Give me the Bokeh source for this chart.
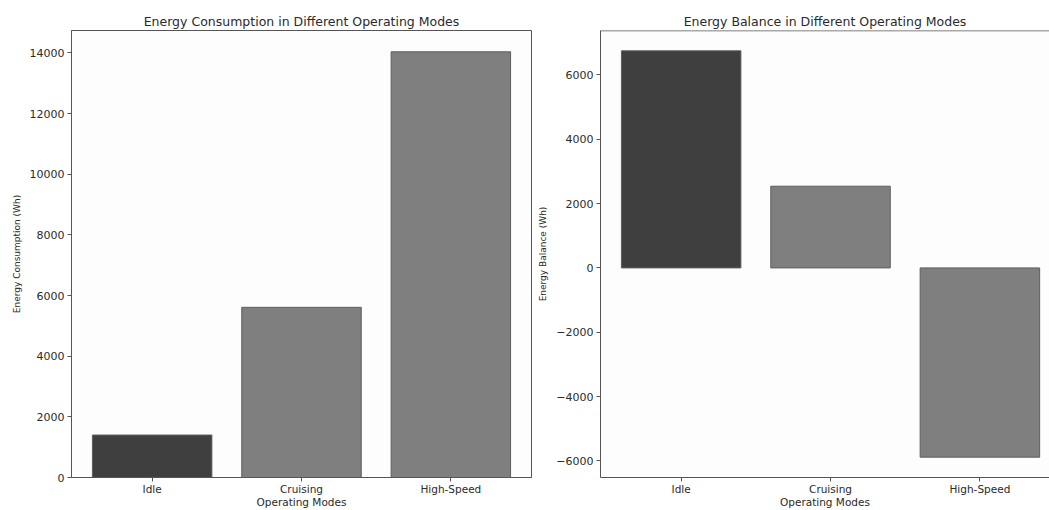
from bokeh.plotting import figure
from bokeh.models import ColumnDataSource, Range1d, FixedTicker, Span
from bokeh.layouts import row
from bokeh.embed import file_html
from bokeh.resources import INLINE

# ---- data ----
modes = ["Idle", "Cruising", "High-Speed"]
consumption_wh = [1400, 5610, 14035]
balance_wh = [6750, 2540, -5885]
cons_ticks = [0, 2000, 4000, 6000, 8000, 10000, 12000, 14000]
bal_ticks = [-6000, -4000, -2000, 0, 2000, 4000, 6000]

# ---- style ----
bar_colors = ["#3f3f3f", "#7f7f7f", "#7f7f7f"]
FONT = "DejaVu Sans"
TXT = "#2a2a2a"
AX = "#555555"


def style(p, yticks, ylabel):
    p.title.text_font = FONT
    p.title.text_font_size = "12.5px"
    p.title.text_font_style = "normal"
    p.title.text_color = TXT
    p.title.align = "center"
    p.title.standoff = 3
    p.xgrid.visible = False
    p.ygrid.visible = False
    p.xaxis.ticker = FixedTicker(ticks=list(range(len(modes))))
    p.xaxis.major_label_overrides = {i: m for i, m in enumerate(modes)}
    p.yaxis.ticker = FixedTicker(ticks=yticks)
    p.yaxis.major_label_overrides = {t: str(t).replace("-", "\u2212") for t in yticks}
    for ax in (p.xaxis[0], p.yaxis[0]):
        ax.axis_line_color = AX
        ax.major_tick_line_color = AX
        ax.major_tick_in = 0
        ax.major_tick_out = 4
        ax.minor_tick_line_color = None
        ax.major_label_text_font = FONT
        ax.major_label_text_color = TXT
        ax.axis_label_text_font = FONT
        ax.axis_label_text_font_style = "normal"
        ax.axis_label_text_color = TXT
    p.xaxis.major_label_text_font_size = "10.5px"
    p.xaxis.major_label_standoff = 1
    p.xaxis.axis_label = "Operating Modes"
    p.xaxis.axis_label_text_font_size = "10.5px"
    p.xaxis.axis_label_standoff = -2
    p.yaxis.major_label_text_font_size = "11px"
    p.yaxis.major_label_standoff = 3
    p.yaxis.axis_label = ylabel
    p.yaxis.axis_label_text_font_size = "9px"
    p.yaxis.axis_label_standoff = 5


# ---- left: consumption ----
src1 = ColumnDataSource(dict(x=list(range(len(modes))), v=consumption_wh, c=bar_colors))
ymax1 = max(consumption_wh) * 1.05
p1 = figure(width=535, height=510, output_backend="svg", toolbar_location=None,
            title="Energy Consumption in Different Operating Modes",
            x_range=Range1d(-0.54, 2.54), y_range=Range1d(0, ymax1),
            min_border_left=71, min_border_right=4, min_border_top=30, min_border_bottom=28)
p1.vbar(x="x", top="v", bottom=0, width=0.8, fill_color="c", line_color="#5e5e5e",
        line_width=1, source=src1)
style(p1, cons_ticks, "Energy Consumption (Wh)")
p1.outline_line_color = AX
p1.outline_line_width = 1
p1.background_fill_color = "#fdfdfd"

# ---- right: balance ----
src2 = ColumnDataSource(dict(x=list(range(len(modes))), v=balance_wh, c=bar_colors))
span = max(balance_wh) - min(balance_wh)
y2lo = min(balance_wh) - 0.05 * span
y2hi = max(balance_wh) + 0.05 * span
p2 = figure(width=514, height=510, output_backend="svg", toolbar_location=None,
            title="Energy Balance in Different Operating Modes",
            x_range=Range1d(-0.54, 2.466), y_range=Range1d(y2lo, y2hi),
            min_border_left=65, min_border_right=0, min_border_top=29, min_border_bottom=28)
p2.vbar(x="x", top="v", bottom=0, width=0.8, fill_color="c", line_color="#5e5e5e",
        line_width=1, source=src2)
style(p2, bal_ticks, "Energy Balance (Wh)")
p2.outline_line_color = None
p2.add_layout(Span(location=y2hi, dimension="width", line_color=AX, line_width=1.5))
p2.background_fill_color = "#fdfdfd"

layout = row(p1, p2)
open("out.html", "w").write(file_html(layout, INLINE))
